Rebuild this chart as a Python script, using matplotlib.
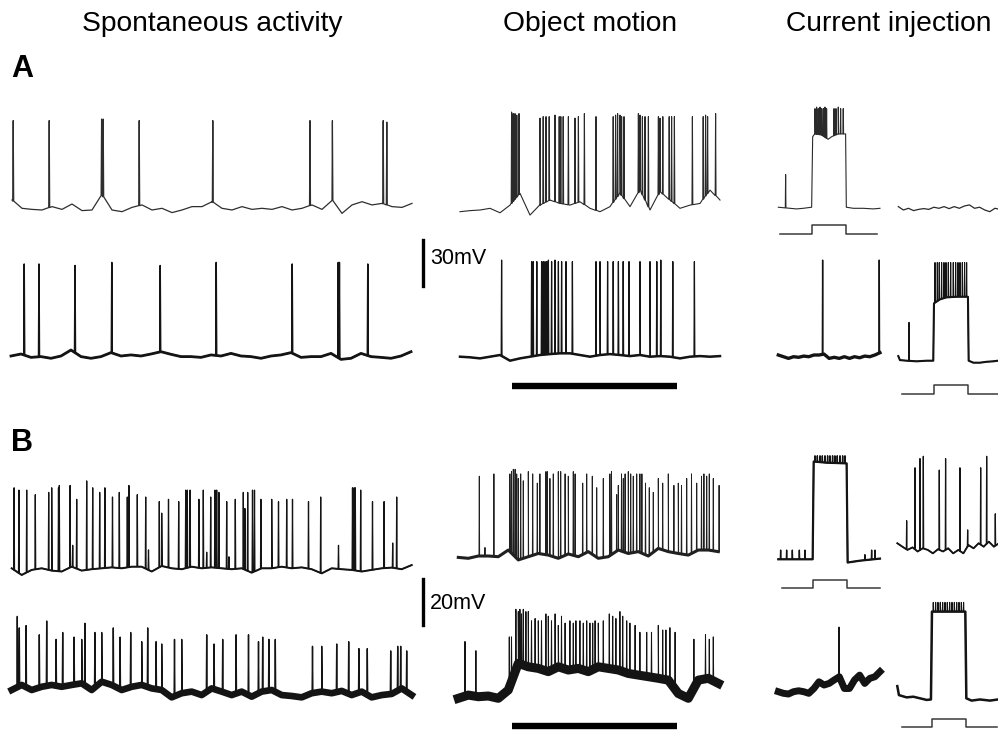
import numpy as np
import matplotlib
matplotlib.use('Agg')
import matplotlib.pyplot as plt

W, H = 998, 731

# ---------------- data (time in s, membrane potential in mV) ----------------
# spontaneous traces: baseline sampled every 0.25 s over 10 s
a_spont1_base = [-54.8, -60.2, -60.9, -61.3, -59.1, -60.9, -57.4, -61.7, -61.3, -51.5, -61.3,
                 -62.4, -59.6, -58.0, -61.3, -60.2, -63.0, -61.3, -59.1, -59.1, -55.9, -60.2,
                 -61.3, -59.1, -60.9, -60.2, -60.9, -59.1, -61.3, -60.2, -58.0, -60.9, -54.8,
                 -63.5, -58.0, -55.9, -58.0, -57.0, -59.1, -59.6, -57.0]
a_spont1_spk_t = [0.03, 0.93, 2.24, 2.28, 3.18, 5.02, 7.45, 8.01, 9.28, 9.37]
a_spont1_spk_v = [-3, -3, -2, -2, -3, -3, -3, -3, -3, -4]

a_spont2_base = [-60.0, -58.7, -60.9, -60.4, -61.5, -60.0, -56.1, -60.4, -61.5, -60.4, -57.8,
                 -60.0, -59.3, -60.0, -58.7, -57.2, -58.9, -60.4, -60.4, -60.9, -59.3, -60.0,
                 -58.3, -60.0, -60.4, -61.5, -60.0, -59.3, -57.8, -60.9, -60.4, -60.4, -58.3,
                 -62.2, -61.5, -58.3, -60.4, -60.9, -61.5, -60.0, -57.2]
a_spont2_spk_t = [0.33, 0.70, 1.60, 2.52, 3.73, 5.13, 7.03, 8.18, 8.21, 8.92]
a_spont2_spk_v = [0, 0, -1, 1, -1, 1, 0, 1, 1, 0]

b_spont1_base = [-60, -62.9, -60.7, -60, -61.0, -61.4, -59.3, -61.0, -60.4, -60, -59.6, -60,
                 -59.3, -59.3, -61.4, -59.0, -60, -60.4, -59.3, -60, -59.6, -60, -60.4, -60,
                 -61.9, -60, -60, -59.3, -60, -59.6, -60.4, -62.2, -60, -60.4, -60.7, -61.4,
                 -60.7, -60, -59.7, -60.4, -58.6]
b_spont1_spk_t = [0.06, 0.18, 0.375, 0.59, 0.925, 1.0, 1.17, 1.19, 1.46, 1.525, 1.625, 1.875,
                  2.025, 2.2, 2.33, 2.52, 2.69, 2.89, 2.93, 3.14, 3.35, 3.42, 3.69, 3.75, 3.92,
                  4.175, 4.35, 4.39, 4.46, 4.68, 4.79, 4.875, 4.975, 5.08, 5.125, 5.18, 5.375,
                  5.43, 5.59, 5.79, 5.83, 5.9, 6.02, 6.07, 6.23, 6.5, 6.67, 6.875, 7.02, 7.42,
                  7.725, 8.17, 8.52, 8.56, 8.59, 8.725, 9.02, 9.31, 9.525, 9.625]
b_spont1_spk_v = [-25, -26, -26, -28, -27, -25, -25, -24, -24, -50, -30, -22, -25, -27, -25,
                  -29, -27, -29, -24, -28, -29, -52, -31, -36, -30, -31, -26, -26, -26, -30,
                  -26, -53, -29, -26, -26, -27, -31, -55, -30, -27, -34, -27, -26, -26, -30,
                  -30, -31, -30, -30, -31, -29, -50, -25, -25, -25, -26, -31, -31, -49, -29]

b_spont2_base = [-60, -57.8, -60, -58.6, -57.8, -58.6, -57.8, -57.1, -60, -56.4, -57.8, -60,
                 -58.6, -57.8, -59.3, -60, -63.2, -61.4, -60.7, -62.2, -59.3, -60.7, -62.2,
                 -60.7, -62.9, -60.7, -60, -62.2, -62.6, -63.2, -61.4, -60.7, -61.4, -60.4,
                 -62.2, -60.7, -63.2, -62.2, -61.7, -59.3, -62.2]
b_spont2_spk_t = [0.14, 0.19, 0.36, 0.69, 0.875, 1.11, 1.275, 1.56, 1.75, 1.83, 2.08, 2.25,
                  2.54, 2.71, 2.975, 3.25, 3.4, 3.61, 3.75, 4.07, 4.25, 4.875, 5.06, 5.275,
                  5.61, 5.92, 6.17, 6.275, 6.43, 6.59, 7.52, 7.75, 8.125, 8.425, 8.68, 8.89,
                  9.475, 9.65, 9.725, 9.875]
b_spont2_spk_v = [-28, -33, -32, -36, -30, -38, -35, -37, -38, -31, -35, -35, -33, -37, -35,
                  -39, -33, -39, -40, -38, -38, -36, -40, -38, -36, -36, -39, -37, -38, -38,
                  -41, -41, -40, -39, -42, -42, -43, -41, -41, -43]

# object motion traces: baseline every 0.25 s over 6.5 s
a_obj1_base = [-60.0, -59.3, -58.9, -57.8, -60.7, -55.7, -48.0, -62.2, -55.7, -52.4, -54.6,
               -55.7, -53.5, -57.8, -60.0, -56.7, -48.0, -56.7, -45.9, -58.9, -47.0, -52.4,
               -57.8, -55.7, -54.6, -45.9, -52.4]
a_obj1_spk_t = [1.29, 1.33, 1.375, 1.42, 1.475, 2.0, 2.08, 2.15, 2.23, 2.375, 2.48, 2.52, 2.58,
                2.71, 2.875, 2.96, 3.11, 3.40, 3.83, 3.89, 3.94, 4.0, 4.04, 4.10, 4.46, 4.5,
                4.56, 4.625, 4.71, 4.96, 5.0, 5.07, 5.23, 5.29, 5.36, 5.81, 6.08, 6.14, 6.19, 6.39]
a_obj1_spk_v = [5, 4, 4, 3, 4, 1, 2, 2, 2, 3, 2, 2, 2, 2, 1, 2, 4, 2, 2, 3, 4, 3, 2, 2,
                4, 3, 2, 2, 2, 2, 1, 2, 2, 2, 2, 2, 2, 3, 2, 4]

a_obj2_base = [-60.0, -60.4, -61.1, -60.0, -58.9, -62.6, -61.1, -60.0, -58.9, -58.3, -57.8,
               -57.8, -58.9, -60.0, -58.9, -58.3, -58.9, -59.6, -58.9, -60.0, -59.6, -60.0,
               -61.1, -60.0, -59.6, -60.0, -59.6]
a_obj2_spk_t = [1.04, 1.79, 1.83, 1.92, 2.04, 2.08, 2.125, 2.17, 2.21, 2.29, 2.375, 2.46, 2.54,
                2.65, 2.81, 3.40, 3.5, 3.69, 3.83, 3.96, 4.08, 4.225, 4.5, 4.75, 4.92, 5.02,
                5.32, 5.86]
a_obj2_spk_v = [3, 2, 2, 2, 2, 2, 2, 2, 3, 2, 3, 2, 2, 2, 2, 2, 2, 2, 2, 2, 2, 2, 2, 2, 2, 3, 2, 2]
a_stim = (1.29, 5.42)

b_obj1_base = [-60.3, -60.7, -59.7, -59.7, -60, -57.1, -61.4, -60, -58.6, -59.3, -60.7, -58.8,
               -60, -57.8, -60.7, -60, -57.1, -58.6, -57.8, -59.7, -56.4, -57.8, -58.6, -59.3,
               -57.1, -57.1, -57.8]
b_obj1_spk_t = [0.525, 0.667, 0.89, 1.29, 1.33, 1.375, 1.42, 1.46, 1.5, 1.56, 1.625, 1.75, 1.86,
                1.975, 2.04, 2.19, 2.225, 2.29, 2.375, 2.5, 2.56, 2.67, 2.75, 2.875, 2.92, 3.11,
                3.21, 3.35, 3.46, 3.625, 3.79, 3.83, 3.96, 4.0, 4.08, 4.125, 4.17, 4.25, 4.31,
                4.375, 4.46, 4.54, 4.59, 4.68, 4.775, 4.875, 5.0, 5.11, 5.25, 5.39, 5.5, 5.58,
                5.71, 5.83, 5.96, 6.08, 6.14, 6.21, 6.275, 6.375, 6.52]
b_obj1_spk_v = [-25, -56, -24, -24, -23, -22, -22, -24, -26, -24, -27, -23, -24, -28, -24, -23,
                -23, -26, -24, -23, -23, -24, -25, -23, -24, -28, -24, -25, -30, -26, -24, -23,
                -33, -29, -24, -26, -24, -23, -24, -25, -24, -24, -24, -28, -30, -32, -26, -28,
                -24, -29, -28, -29, -26, -24, -28, -25, -24, -25, -24, -26, -29]

b_obj2_base = [-60.7, -59.3, -60, -59.7, -60.7, -57.1, -45.5, -47.0, -47.7, -49.1, -47.0, -48.4,
               -47.7, -49.1, -47.0, -47.7, -48.4, -49.9, -50.6, -51.3, -52.0, -52.8, -58.6,
               -60.7, -52.8, -52.0, -54.2]
b_obj2_spk_t = [0.167, 0.44, 1.275, 1.33, 1.44, 1.5, 1.54, 1.58, 1.625, 1.69, 1.75, 1.83, 1.92,
                2.0, 2.08, 2.19, 2.25, 2.33, 2.42, 2.5, 2.58, 2.67, 2.79, 2.875, 2.94, 3.04,
                3.125, 3.21, 3.29, 3.36, 3.42, 3.5, 3.625, 3.775, 3.86, 3.94, 4.04, 4.11, 4.21,
                4.29, 4.42, 4.54, 4.71, 4.83, 5.0, 5.11, 5.19, 5.29, 5.42, 5.89, 6.18, 6.275, 6.375]
b_obj2_spk_v = [-36, -40, -34, -34, -22, -23, -22, -24, -22, -23, -23, -27, -26, -27, -27, -24,
                -25, -27, -24, -29, -25, -28, -27, -28, -27, -27, -28, -27, -28, -28, -27, -28,
                -27, -24, -25, -26, -23, -25, -27, -28, -29, -32, -32, -32, -29, -31, -31, -30,
                -32, -35, -33, -35, -34]
b_stim = (1.33, 5.46)

# current injection traces (1 s each)
a_inj1_t = [0, 0.115, 0.18, 0.246, 0.328, 0.338, 0.36, 0.426, 0.49, 0.525, 0.59, 0.662, 0.669,
            0.738, 0.836, 0.934, 1.0]
a_inj1_v = [-59.3, -60, -60.4, -60, -59.3, -13.3, -11.5, -12.2, -15.0, -13.3, -11.5, -11.5,
            -59.3, -60, -60, -60.4, -60]
a_inj1_spk_t = [0.072, 0.361, 0.377, 0.393, 0.41, 0.426, 0.443, 0.459, 0.475, 0.548, 0.567,
                0.59, 0.613, 0.639]
a_inj1_spk_v = [-38, 5, 6, 5, 6, 5, 5, 6, 5, 5, 5, 6, 5, 5]
a_inj1_step = (0.016, 0.334, 0.666, 0.974)

a_inj2_base = [-58.9, -61.1, -60, -61.5, -60.7, -60.2, -60.7, -59.3, -60, -58.9, -60.2, -58.9,
               -60, -58.5, -57.8, -60, -59.3, -61.1, -62.2, -60, -60.7]

a_inj3_base = [-58.9, -60, -61.1, -60, -60.4, -59.6, -60, -58.9, -58.9, -58.3, -61.1, -60.4,
               -61.1, -60, -61.1, -60, -60.7, -59.6, -60, -58.9, -57.4]
a_inj3_spk_t = [0.436, 0.993]
a_inj3_spk_v = [3, 3]

a_inj4_t = [0, 0.016, 0.082, 0.18, 0.279, 0.344, 0.351, 0.41, 0.475, 0.574, 0.685, 0.692,
            0.738, 0.803, 0.869, 0.934, 0.98]
a_inj4_v = [-57, -59.6, -60, -60.4, -60, -60, -22.6, -20, -18.7, -18.3, -18.3, -60, -61.3,
            -61.3, -60.7, -60.4, -60]
a_inj4_spk_t = [0.105, 0.361, 0.384, 0.403, 0.426, 0.449, 0.469, 0.492, 0.515, 0.541, 0.564,
                0.587, 0.607, 0.63, 0.652, 0.672]
a_inj4_spk_v = [-35, 4, 4, 4, 4, 4, 4, 4, 4, 4, 4, 4, 4, 4, 4, 4]
a_inj4_step = (0.033, 0.351, 0.689, 0.98)

b_inj1_t = [0, 0.338, 0.348, 0.475, 0.672, 0.682, 0.803, 1.0]
b_inj1_v = [-60, -60, -17.5, -18.0, -18.3, -61.4, -60.6, -59.7]
b_inj1_spk_t = [0.023, 0.082, 0.138, 0.207, 0.262, 0.361, 0.384, 0.41, 0.433, 0.459, 0.485,
                0.508, 0.534, 0.557, 0.58, 0.607, 0.633, 0.656, 0.852, 0.918, 0.951]
b_inj1_spk_v = [-56, -56, -56, -56, -56, -15, -15, -15, -15, -15, -15, -15, -15, -15, -15,
                -15, -15, -15, -58, -56, -56]
b_inj1_step = (0.033, 0.344, 0.679, 0.998)

b_inj2_base = [-57.8, -59.3, -60.7, -59.6, -61.4, -60, -60.7, -62.2, -60.4, -61.4, -60, -62.2,
               -60.7, -62.2, -58.6, -60, -57.8, -59.3, -57.1, -59.3, -57.8]
b_inj2_spk_t = [0.092, 0.174, 0.223, 0.256, 0.413, 0.475, 0.616, 0.692, 0.82, 0.879, 0.964]
b_inj2_spk_v = [-48, -25, -21, -20, -26, -21, -25, -52, -25, -20, -45]

b_inj3_base = [-60, -60.7, -61.0, -60, -59.6, -60, -60.7, -58.6, -55.7, -57.1, -56.4, -54.9,
               -53.5, -58.6, -58.6, -54.9, -52.8, -56.4, -54.2, -53.5, -51.3]
b_inj3_spk_t = [0.597]
b_inj3_spk_v = [-32]

b_inj4_t = [0, 0.016, 0.092, 0.157, 0.223, 0.289, 0.331, 0.341, 0.518, 0.669, 0.679, 0.731,
            0.813, 0.911, 0.99]
b_inj4_v = [-55.4, -59.3, -60.3, -60, -60.7, -61.4, -61.2, -23, -23, -23, -60.7, -61.7,
            -61.2, -61.7, -61.2]
b_inj4_spk_t = [0.354, 0.377, 0.4, 0.423, 0.446, 0.469, 0.492, 0.515, 0.538, 0.561, 0.584,
                0.607, 0.63, 0.652]
b_inj4_spk_v = [-19] * 14
b_inj4_step = (0.043, 0.338, 0.675, 0.98)

# ---------------- helpers ----------------
fig = plt.figure(figsize=(W / 100, H / 100), dpi=100)


def panel(x0, yref, tspan, pps, ppm, vref=-60.0):
    # axes whose data units map to pixels: pps px per second, ppm px per mV
    top, bot = yref - 140, yref + 45
    ax = fig.add_axes([x0 / W, 1 - bot / H, tspan * pps / W, (bot - top) / H])
    ax.set_xlim(0, tspan)
    ax.set_ylim(vref - 45 / ppm, vref + 140 / ppm)
    ax.axis('off')
    return ax


def trace(tb, vb, st, sv, w):
    tb, vb = np.asarray(tb, float), np.asarray(vb, float)
    st, sv = np.asarray(st, float), np.asarray(sv, float)
    base = np.interp(st, tb, vb)
    ts = np.concatenate([tb, st - w, st, st + w])
    vs = np.concatenate([vb, base, sv, base])
    o = np.argsort(ts, kind='stable')
    return ts[o], vs[o]


def draw(ax, tb, vb, st, sv, w, lw_spk, lw_base, color='#141414'):
    # thin line carries the spikes, a heavier line under it gives the noisy baseline band
    if lw_base > lw_spk:
        ax.plot(tb, vb, color=color, lw=lw_base, clip_on=False, solid_joinstyle='round')
    t, v = trace(tb, vb, st, sv, w)
    ax.plot(t, v, color=color, lw=lw_spk, clip_on=False)


def grid(vals, dt):
    return np.arange(len(vals)) * dt


def step_trace(ax, step, amp, color='#3a3a3a'):
    t0, on, off, t1 = step
    ax.plot([t0, on, on, off, off, t1], [0, 0, amp, amp, 0, 0], color=color, lw=1.1,
            clip_on=False)


A_PPM = 46 / 30.0
B_PPM = 46 / 20.0
CI_PPS = 305 / 3.0
NONE = []

# ---------------- A ----------------
ax = panel(12, 208, 10, 40, A_PPM)
draw(ax, grid(a_spont1_base, 0.25), a_spont1_base, a_spont1_spk_t, a_spont1_spk_v, 0.012,
     0.9, 0, color='#2e2e2e')

ax = panel(11, 356, 10, 40, A_PPM)
draw(ax, grid(a_spont2_base, 0.25), a_spont2_base, a_spont2_spk_t, a_spont2_spk_v, 0.012,
     1.1, 2.0)
ax.plot([10.3, 10.3], [-14.3, -14.3 + 30], color='black', lw=2.4, clip_on=False)
ax.text(10.475, 3.3, '30mV', fontsize=15.5, va='center', ha='left',
        family=['Liberation Sans Narrow', 'Liberation Sans'])

ax = panel(460, 211.7, 6.5, 40, A_PPM)
draw(ax, grid(a_obj1_base, 0.25), a_obj1_base, a_obj1_spk_t, a_obj1_spk_v, 0.01,
     0.8, 0, color='#2a2a2a')

ax = panel(460, 356.7, 6.5, 40, A_PPM)
draw(ax, grid(a_obj2_base, 0.25), a_obj2_base, a_obj2_spk_t, a_obj2_spk_v, 0.01,
     0.9, 1.8)
ax.plot(a_stim, [-79.1, -79.1], color='black', lw=4.6, solid_capstyle='butt', clip_on=False)

ax = panel(778.3, 208.3, 1, CI_PPS, A_PPM)
draw(ax, a_inj1_t, a_inj1_v, a_inj1_spk_t, a_inj1_spk_v, 0.003, 0.8, 0, color='#2a2a2a')
ax = panel(778.3, 234.3, 1, CI_PPS, 93, vref=0)
step_trace(ax, a_inj1_step, 0.1)

ax = panel(898.3, 208.3, 1, CI_PPS, A_PPM)
draw(ax, grid(a_inj2_base, 0.05), a_inj2_base, NONE, NONE, 0.003, 0.9, 0, color='#2a2a2a')

ax = panel(778.3, 356.7, 1, CI_PPS, A_PPM)
draw(ax, grid(a_inj3_base, 0.05), a_inj3_base, a_inj3_spk_t, a_inj3_spk_v, 0.003, 1.0, 2.4)

ax = panel(898.3, 360.7, 1, CI_PPS, A_PPM)
draw(ax, a_inj4_t, a_inj4_v, a_inj4_spk_t, a_inj4_spk_v, 0.003, 0.8, 1.5)
ax = panel(898.3, 394, 1, CI_PPS, 93, vref=0)
step_trace(ax, a_inj4_step, 0.1)

# ---------------- B ----------------
ax = panel(11.7, 568.3, 10, 40, B_PPM)
draw(ax, grid(b_spont1_base, 0.25), b_spont1_base, b_spont1_spk_t, b_spont1_spk_v, 0.01,
     0.9, 1.4)

ax = panel(11.7, 690, 10, 40, B_PPM)
draw(ax, grid(b_spont2_base, 0.25), b_spont2_base, b_spont2_spk_t, b_spont2_spk_v, 0.01,
     1.0, 4.8)
ax.plot([10.28, 10.28], [-31.7, -31.7 + 20], color='black', lw=2.4, clip_on=False)
ax.text(10.46, -22.2, '20mV', fontsize=15.5, va='center', ha='left',
        family=['Liberation Sans Narrow', 'Liberation Sans'])

ax = panel(458.3, 556.7, 6.5, 40, B_PPM)
draw(ax, grid(b_obj1_base, 0.25), b_obj1_base, b_obj1_spk_t, b_obj1_spk_v, 0.008,
     0.7, 2.2, color='#202020')

ax = panel(458.3, 696.7, 6.5, 40, B_PPM)
draw(ax, grid(b_obj2_base, 0.25), b_obj2_base, b_obj2_spk_t, b_obj2_spk_v, 0.008,
     0.75, 6.5)
ax.plot(b_stim, [-72.6, -72.6], color='black', lw=4.6, solid_capstyle='butt', clip_on=False)

ax = panel(778.3, 559.3, 1, CI_PPS, B_PPM)
draw(ax, b_inj1_t, b_inj1_v, b_inj1_spk_t, b_inj1_spk_v, 0.003, 1.0, 1.6)
ax = panel(778.3, 588.3, 1, CI_PPS, 83, vref=0)
step_trace(ax, b_inj1_step, 0.1)

ax = panel(897.3, 548.3, 1, CI_PPS, B_PPM)
draw(ax, grid(b_inj2_base, 0.05), b_inj2_base, b_inj2_spk_t, b_inj2_spk_v, 0.003, 0.9, 1.3)

ax = panel(778.3, 691.7, 1, CI_PPS, B_PPM)
draw(ax, grid(b_inj3_base, 0.05), b_inj3_base, b_inj3_spk_t, b_inj3_spk_v, 0.003, 1.0, 5.0)

ax = panel(897.3, 696.7, 1, CI_PPS, B_PPM)
draw(ax, b_inj4_t, b_inj4_v, b_inj4_spk_t, b_inj4_spk_v, 0.003, 0.8, 1.8)
ax = panel(897.3, 727.3, 1, CI_PPS, 80, vref=0)
step_trace(ax, b_inj4_step, 0.1)

# ---------------- labels ----------------
title_font = ['Liberation Sans', 'DejaVu Sans']
fig.text(212.5 / W, 1 - 31 / H, 'Spontaneous activity', fontsize=20.3, ha='center',
         va='baseline', family=title_font)
fig.text(590 / W, 1 - 31 / H, 'Object motion', fontsize=20.3, ha='center', va='baseline',
         family=title_font)
fig.text(888.5 / W, 1 - 31 / H, 'Current injection', fontsize=20.3, ha='center',
         va='baseline', family=title_font)
fig.text(11 / W, 1 - 77 / H, 'A', fontsize=22, fontweight='bold', va='baseline',
         family=title_font)
fig.text(11 / W, 1 - 451 / H, 'B', fontsize=22, fontweight='bold', va='baseline',
         family=title_font)

fig.savefig('out.png', dpi=100, facecolor='white')
